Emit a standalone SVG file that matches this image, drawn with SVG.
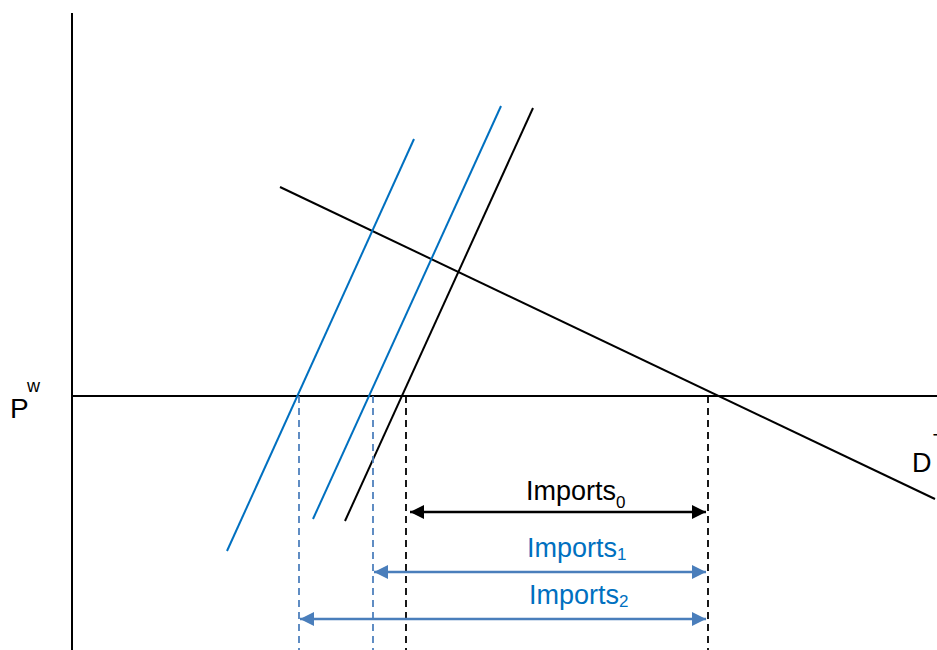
<svg xmlns="http://www.w3.org/2000/svg" width="937" height="650" viewBox="0 0 937 650">
<style>
.ax{stroke:#000;stroke-width:2;fill:none}
.blk{stroke:#000;stroke-width:2;fill:none}
.blu{stroke:#0070C0;stroke-width:2;fill:none}
.dk{stroke:#000;stroke-width:1.8;stroke-dasharray:7,5;fill:none}
.db{stroke:#4F81BD;stroke-width:1.8;stroke-dasharray:7,5;fill:none}
.ak{stroke:#000;stroke-width:2.5;fill:none}
.ab{stroke:#4A7EBB;stroke-width:2.5;fill:none}
text{font-family:"Liberation Sans",Arial,sans-serif}
.lk{fill:#000;font-size:27px}
.lb{fill:#0070C0;font-size:27px}
</style>
<defs>
<marker id="hk" viewBox="0 0 10 10" refX="10" refY="5" markerWidth="6.4" markerHeight="5.6" markerUnits="strokeWidth" orient="auto-start-reverse"><path d="M0,0L10,5L0,10z" fill="#000"/></marker>
<marker id="hb" viewBox="0 0 10 10" refX="10" refY="5" markerWidth="6.4" markerHeight="5.6" markerUnits="strokeWidth" orient="auto-start-reverse"><path d="M0,0L10,5L0,10z" fill="#4A7EBB"/></marker>
</defs>
<g id="axes">
<line class="ax" x1="72" y1="13" x2="72" y2="650"/>
<line class="ax" x1="72" y1="396" x2="937" y2="396"/>
</g>
<g id="demand"><line class="blk" x1="280" y1="187" x2="935" y2="499"/></g>
<g id="supply0"><line class="blk" x1="533" y1="108" x2="345" y2="521"/></g>
<g id="supply1"><line class="blu" x1="501" y1="106" x2="313" y2="519"/></g>
<g id="supply2"><line class="blu" x1="414" y1="139" x2="227" y2="551"/></g>
<g id="connectors">
<line class="db" x1="299" y1="396" x2="299" y2="650"/>
<line class="db" x1="373" y1="396" x2="373" y2="650"/>
<line class="dk" x1="406" y1="396" x2="406" y2="650"/>
<line class="dk" x1="708" y1="396" x2="708" y2="650"/>
<line class="ak" x1="410" y1="512" x2="706" y2="512" marker-start="url(#hk)" marker-end="url(#hk)"/>
<line class="ab" x1="374" y1="572" x2="706" y2="572" marker-start="url(#hb)" marker-end="url(#hb)"/>
<line class="ab" x1="300" y1="619" x2="706" y2="619" marker-start="url(#hb)" marker-end="url(#hb)"/>
</g>
<g id="labels">
<text x="10" y="418" font-size="28">P</text>
<text x="27" y="392" font-size="18">w</text>
<text x="912" y="472" font-size="27">D</text>
<text x="933" y="447" font-size="18">T</text>
<text class="lk" x="526" y="500">Imports<tspan font-size="17" dy="8">0</tspan></text>
<text class="lb" x="527" y="557">Imports<tspan font-size="17" dy="3">1</tspan></text>
<text class="lb" x="529" y="604">Imports<tspan font-size="17" dy="3">2</tspan></text>
</g>
</svg>
